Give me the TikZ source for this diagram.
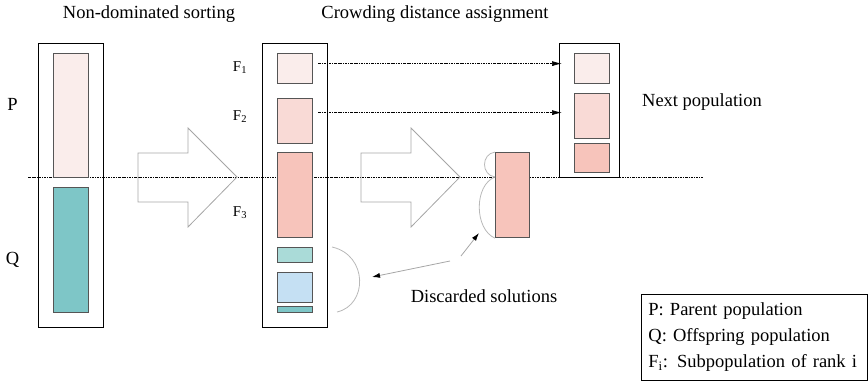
\documentclass[tikz,border=0pt]{standalone}
\usepackage{fontspec}
\setmainfont{Liberation Serif}
\usetikzlibrary{arrows.meta,calc}
\definecolor{rankone}{HTML}{FAEDEB}
\definecolor{ranktwo}{HTML}{F9DAD6}
\definecolor{rankthree}{HTML}{F7C4BB}
\definecolor{offteal}{HTML}{7EC6C7}
\definecolor{paleteal}{HTML}{AADBD8}
\definecolor{paleblue}{HTML}{C5E0F3}
\definecolor{soledge}{HTML}{555555}
\definecolor{hollow}{HTML}{A6A6A6}

\tikzset{
  popframe/.style={draw=black,line width=0.9pt,minimum width=65pt,anchor=north west,inner sep=0pt},
  sol/.style={draw=soledge,line width=1.2pt,minimum width=35pt,anchor=north west,inner sep=0pt},
  rankline/.style={black,line width=0.7pt,dash pattern=on 2.5pt off 1pt on 0.8pt off 1pt},
  hollowarrow/.style={draw=hollow,line width=0.8pt,line join=miter},
  arcline/.style={draw=hollow!80,line width=0.8pt},
  lbl/.style={font=\fontsize{18.5}{22}\selectfont,inner sep=0pt},
  rk/.style={font=\fontsize{15}{18}\selectfont,inner sep=0pt}
}

\begin{document}
\begin{tikzpicture}[x=1pt,y=-1pt,line cap=butt]
  \useasboundingbox (0,0) rectangle (868,381);
  % front line between P and Q
  \draw[rankline] (28,177) -- (703,177);

  % combined population
  \node[popframe,minimum height=284pt] (mix) at (38,43) {};
  \node[sol,fill=rankone,minimum height=124pt] (P) at (53,53) {};
  \node[sol,fill=offteal,minimum height=125pt] (Q) at (53,187) {};
  \node[lbl] (Plbl) at (12.5,104) {P};
  \node[lbl] (Qlbl) at (12.5,260) {Q};

  % sorted fronts
  \node[popframe,minimum height=284pt] (sorted) at (262,43) {};
  \node[sol,fill=rankone,minimum height=30pt] (F1) at (277,53) {};
  \node[sol,fill=ranktwo,minimum height=45pt] (F2) at (277,98) {};
  \node[sol,fill=rankthree,minimum height=85pt] (F3) at (277,152) {};
  \node[sol,fill=paleteal,minimum height=15pt] (F4) at (277,247) {};
  \node[sol,fill=paleblue,minimum height=30pt] (F5) at (277,272) {};
  \node[sol,fill=offteal,minimum height=6pt] (F6) at (277,306) {};
  \node[rk] (F1lbl) at (240,68) {F\textsubscript{1}};
  \node[rk] (F2lbl) at (240,117) {F\textsubscript{2}};
  \node[rk] (F3lbl) at (240,213) {F\textsubscript{3}};

  % next population
  \node[popframe,minimum width=60pt,minimum height=134pt] (next) at (559,43) {};
  \node[sol,fill=rankone,minimum height=30pt] (N1) at (574,53) {};
  \node[sol,fill=ranktwo,minimum height=45pt] (N2) at (574,93) {};
  \node[sol,fill=rankthree,minimum height=29pt] (N3) at (574,143) {};
  \node[sol,fill=rankthree,minimum width=34pt,minimum height=85pt] (cut) at (495,152) {};

  % block arrows
  \foreach \ax in {0,223}
    \draw[hollowarrow,shift={(\ax,0)}] (138,153) -- (188,153) -- (188,128) -- (237,177)
      -- (188,227) -- (188,202) -- (138,202) -- cycle;

  % brackets round the discarded parts
  \draw[arcline] (332,247) .. controls (368,255) and (368,305) .. (337,312);
  \draw[arcline] (cut.north west) .. controls (481,154) and (481,175) .. (495,177);
  \draw[arcline] (495,177) .. controls (474,185) and (474,229) .. (cut.south west);

  % copied fronts
  \coordinate (F1out) at ([yshift=5pt]F1.east);
  \coordinate (F2out) at ([yshift=8.5pt]F2.east);
  \draw[rankline,-{Latex[length=10pt,width=5pt]}] ([xshift=5pt]F1out) -- ([xshift=3pt]next.west |- F1out);
  \draw[rankline,-{Latex[length=10pt,width=5pt]}] ([xshift=5pt]F2out) -- ([xshift=3pt]next.west |- F2out);

  % discarded solutions
  \coordinate (fromA) at (461,256);
  \coordinate (fromB) at (450,261);
  \coordinate (cutend) at (479,233);
  \coordinate (arcend) at (372,277);
  \draw[hollow,line width=0.8pt,-{Latex[length=8pt,width=5pt,color=black]}] (fromA) -- (cutend);
  \draw[hollow,line width=0.8pt,-{Latex[length=8pt,width=5pt,color=black]}] (fromB) -- (arcend);
  \node[lbl] (disc) at (484,296) {Discarded solutions};

  % titles
  \node[lbl] (sorttitle) at (149,14) {Non-dominated sorting};
  \node[lbl] (crowdtitle) at (435,14) {Crowding distance assignment};
  \node[lbl] (nextlbl) at (702,102) {Next population};

  % legend
  \node[draw=black,line width=0.8pt,anchor=north west,minimum width=226pt,minimum height=86pt,
        inner xsep=7pt,text width=212pt,align=left,font=\fontsize{18.5}{26}\selectfont] (legend) at (641,294)
    {P: Parent population\\Q: Offspring population\\F\textsubscript{i}: Subpopulation of rank i};
\end{tikzpicture}
\end{document}
